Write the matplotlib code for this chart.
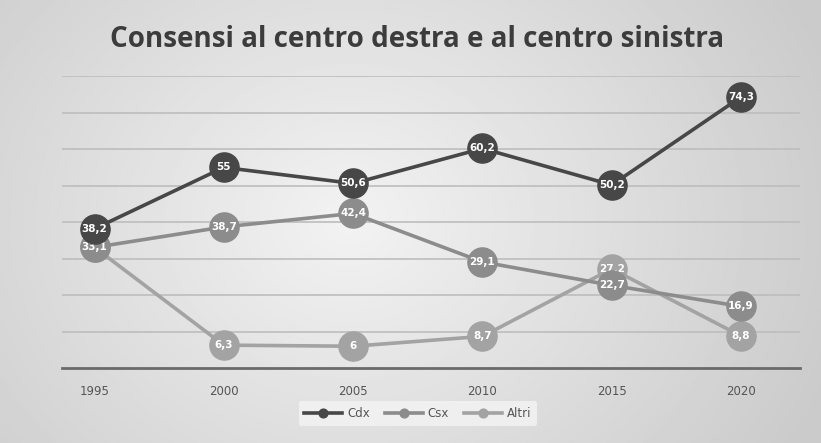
import numpy as np
import matplotlib
matplotlib.use("Agg")
import matplotlib.pyplot as plt

years = ["1995", "2000", "2005", "2010", "2015", "2020"]
cdx = [38.2, 55, 50.6, 60.2, 50.2, 74.3]
csx = [33.1, 38.7, 42.4, 29.1, 22.7, 16.9]
altri = [33.1, 6.3, 6, 8.7, 27.2, 8.8]
series_names = ["Cdx", "Csx", "Altri"]
labels_cdx = ["38,2", "55", "50,6", "60,2", "50,2", "74,3"]
labels_csx = ["33,1", "38,7", "42,4", "29,1", "22,7", "16,9"]
# the 1995 Altri point sits under the Csx marker, its label is hidden there
labels_altri = ["", "6,3", "6", "8,7", "27,2", "8,8"]

fig = plt.figure(figsize=(8.21, 4.43), dpi=100)

# grey gradient behind everything
bg = fig.add_axes([0, 0, 1, 1], zorder=-10)
xx = np.linspace(-1, 1, 400)
yy = np.linspace(-1, 1, 220)
X, Y = np.meshgrid(xx, yy)
shade = 0.95 - 0.13 * np.clip(np.sqrt((X + 0.15) ** 2 * 0.9 + (Y * 0.6) ** 2), 0, 1.2)
bg.imshow(shade, cmap="gray", vmin=0, vmax=1, aspect="auto", extent=[0, 1, 0, 1])
bg.set_axis_off()

ax = fig.add_axes([0.075, 0.169, 0.90, 0.659])
ax.patch.set_alpha(0)
x = np.arange(len(years))

styles = [
    (cdx, labels_cdx, "#474747", 4),
    (csx, labels_csx, "#8c8c8c", 3),
    (altri, labels_altri, "#a3a3a3", 2),
]
for (vals, labs, col, z), name in zip(styles, series_names):
    ax.plot(x, vals, color=col, lw=2.6, marker="o", ms=21, mfc=col,
            mec=col, label=name, zorder=z)
    for xi, v, t in zip(x, vals, labs):
        if t:
            ax.text(xi, v, t, ha="center", va="center", color="white",
                    fontsize=7.5, fontweight="bold", zorder=z + 0.5)

ax.set_xlim(-0.255, 5.46)
ax.set_ylim(0, 80)
ax.set_yticks(np.arange(10, 81, 10))
ax.yaxis.grid(True, color="#bdbdbd", lw=1.2)
ax.set_axisbelow(True)
ax.tick_params(axis="y", left=False, labelleft=False)
ax.set_xticks(x)
ax.set_xticklabels(years, fontsize=8.5, color="#555555")
ax.tick_params(axis="x", length=0, pad=12)
for s in ["top", "right", "left"]:
    ax.spines[s].set_visible(False)
ax.spines["bottom"].set_color("#6a6a6a")
ax.spines["bottom"].set_linewidth(2)

fig.text(0.508, 0.91, "Consensi al centro destra e al centro sinistra",
         ha="center", va="center", fontsize=20, fontweight="bold",
         color="#3c3c3c", family="Open Sans")

leg = fig.legend(loc="center", bbox_to_anchor=(0.509, 0.067), ncol=3,
                 fontsize=8.5, frameon=True, markerscale=0.3,
                 handlelength=3.2, columnspacing=1.3, handletextpad=0.4,
                 borderpad=0.5)
leg.get_frame().set_facecolor("#f4f4f4")
leg.get_frame().set_edgecolor("none")
for t in leg.get_texts():
    t.set_color("#555555")

fig.savefig("out.png", dpi=100)
